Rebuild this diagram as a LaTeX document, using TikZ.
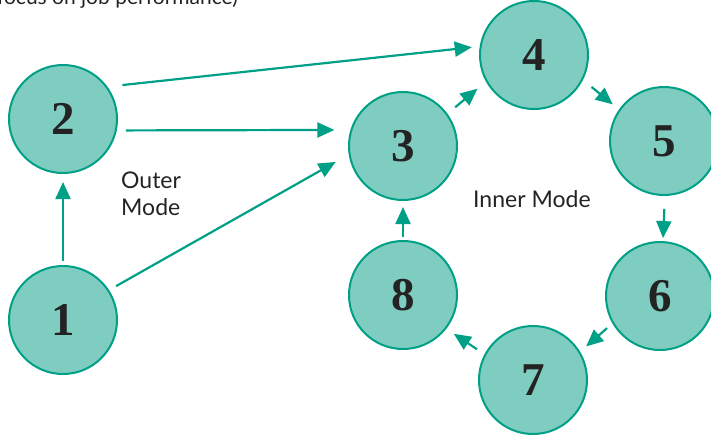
\documentclass[tikz,border=0pt]{standalone}
\usepackage{fontspec}
\setmainfont{Liberation Serif}
\newfontfamily\labfont{Lato}
\usetikzlibrary{arrows.meta}
\definecolor{tfill}{RGB}{126,205,192}
\definecolor{tline}{RGB}{0,160,135}
\definecolor{ttext}{RGB}{35,35,35}
\begin{document}
\begin{tikzpicture}[x=1pt,y=-1pt,
 circ/.style={circle,draw=tline,fill=tfill,line width=2pt,minimum size=108pt,inner sep=0pt,text=ttext,font=\fontsize{47}{47}\selectfont\bfseries},
 arr/.style={draw=tline,line width=2.2pt,-{Triangle[length=17pt,width=15pt]}},
 lab/.style={font=\labfont\fontsize{23}{26}\selectfont,text=ttext,inner sep=0pt}]
\useasboundingbox (0,0) rectangle (711,439);
\clip (0,0) rectangle (711,439);
\node[lab,font=\labfont\fontsize{21}{24}\selectfont,anchor=base east] (top) at (238,5) {focus on job performance)};
\node[circ] (c1) at (63,320) {1};
\node[circ] (c2) at (63,119) {2};
\node[circ] (c3) at (403,146) {3};
\node[circ] (c4) at (534,55) {4};
\node[circ] (c5) at (664,141) {5};
\node[circ] (c6) at (660,296) {6};
\node[circ] (c7) at (533,380) {7};
\node[circ] (c8) at (403,295) {8};
\node[lab,anchor=base west] (outer1) at (121,188) {Outer};
\node[lab,anchor=base west] (outer2) at (121,215) {Mode};
\node[lab,anchor=base west] (inner) at (473,207) {Inner Mode};
\draw[arr,shorten <=4pt,shorten >=8pt] (c1.90) -- (c2.270);
\draw[arr,shorten <=9pt,shorten >=16pt] (c2.-12) -- (c3.163);
\draw[arr,shorten <=8pt,shorten >=15pt] (c1.33) -- (c3.189);
\draw[arr,shorten <=15pt,shorten >=8pt] (c2.36) -- (c4.171);
\draw[arr,shorten <=10pt,shorten >=11pt] (c3.36) -- (c4.209);
\draw[arr,shorten <=11pt,shorten >=8pt] (c4.-27) -- (c5.145);
\draw[arr,shorten <=13pt,shorten >=3pt] (c5.271) -- (c6.87);
\draw[arr,shorten <=7pt,shorten >=8pt] (c6.210) -- (c7.31);
\draw[arr,shorten <=9pt,shorten >=9pt] (c7.152) -- (c8.-38);
\draw[arr,shorten <=3pt,shorten >=6pt] (c8.90) -- (c3.270);
\end{tikzpicture}
\end{document}
